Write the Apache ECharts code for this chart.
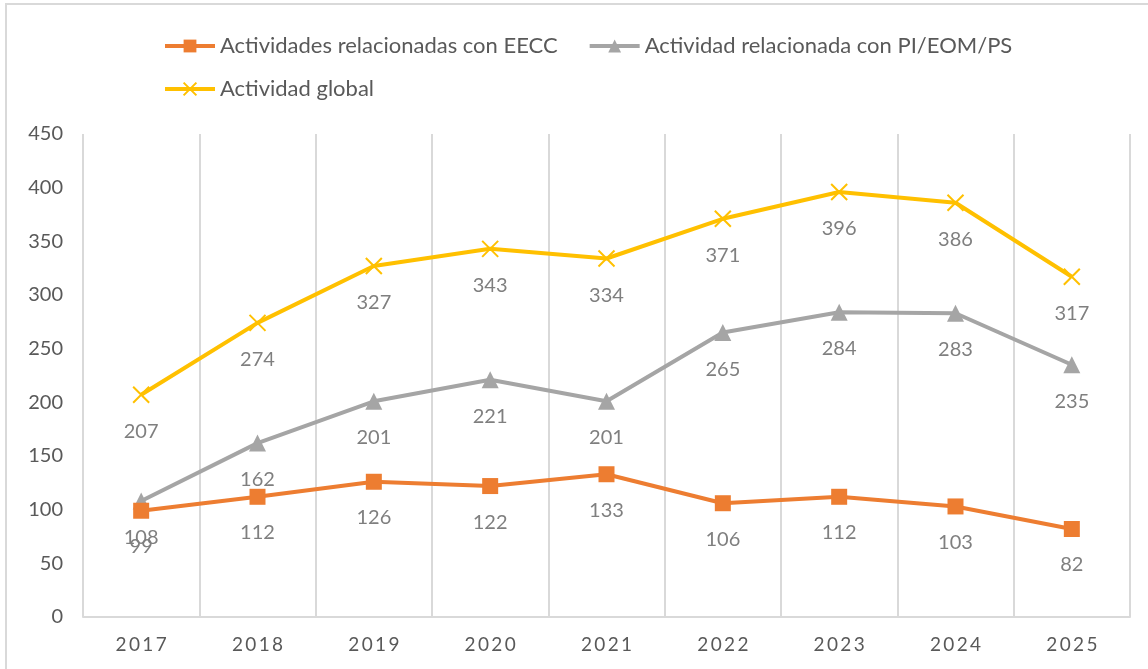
<!DOCTYPE html>
<html>
<head>
<meta charset="utf-8">
<script src="https://cdn.jsdelivr.net/npm/echarts@6/dist/echarts.min.js"></script>
<style>
  html, body { margin: 0; padding: 0; background: #fff; }
  #frame { position: absolute; left: 5px; top: 3px; width: 1160px; height: 700px; border: 2px solid #d9d9d9; box-sizing: border-box; }
  #chart { position: absolute; left: 0; top: 0; width: 1148px; height: 669px; }
</style>
</head>
<body>
<div id="frame"></div>
<div id="chart"></div>
<script>
// data
const years = ['2017', '2018', '2019', '2020', '2021', '2022', '2023', '2024', '2025'];
const eecc = [99, 112, 126, 122, 133, 106, 112, 103, 82];
const piEomPs = [108, 162, 201, 221, 201, 265, 284, 283, 235];
const global = [207, 274, 327, 343, 334, 371, 396, 386, 317];

const NAME_EECC = 'Actividades relacionadas con EECC';
const NAME_PI = 'Actividad relacionada con PI/EOM/PS';
const NAME_GLOBAL = 'Actividad global';

const FONT = 'Lato';
const crossPath = 'path://M0,0L10,10M10,0L0,10';

function spaced(s) {
  return s.split('').join('\u2009');
}

const chart = echarts.init(document.getElementById('chart'));

const labelCfg = {
  show: true,
  position: 'bottom',
  distance: 18,
  color: '#7f7f7f',
  fontSize: 20,
  fontFamily: FONT
};

const legendBase = {
  left: 158,
  itemWidth: 50,
  itemHeight: 16,
  itemGap: 30,
  lineStyle: { width: 4 },
  textStyle: { color: '#595959', fontSize: 22, fontFamily: FONT }
};

chart.setOption({
  animation: false,
  legend: [
    Object.assign({}, legendBase, { top: 30, data: [NAME_EECC, NAME_PI] }),
    Object.assign({}, legendBase, { top: 73, data: [NAME_GLOBAL] })
  ],
  grid: { left: 83, right: 18, top: 134, bottom: 52 },
  xAxis: {
    type: 'category',
    data: years,
    boundaryGap: true,
    axisLine: { lineStyle: { color: '#d9d9d9', width: 2 } },
    axisTick: { show: false },
    splitLine: { show: true, lineStyle: { color: '#d9d9d9', width: 2 } },
    axisLabel: {
      color: '#595959', fontSize: 19, fontFamily: FONT, margin: 18,
      formatter: v => spaced(v)
    }
  },
  yAxis: {
    type: 'value',
    min: 0,
    max: 450,
    interval: 50,
    axisLine: { show: false },
    axisTick: { show: false },
    splitLine: { show: false },
    axisLabel: { color: '#595959', fontSize: 20, fontFamily: FONT, margin: 20 }
  },
  series: [
    {
      name: NAME_EECC,
      type: 'line',
      data: eecc,
      symbol: 'rect',
      symbolSize: 16,
      lineStyle: { color: '#ED7D31', width: 4 },
      itemStyle: { color: '#ED7D31' },
      label: labelCfg,
      z: 4
    },
    {
      name: NAME_PI,
      type: 'line',
      data: piEomPs,
      symbol: 'triangle',
      symbolSize: 17,
      lineStyle: { color: '#A5A5A5', width: 4 },
      itemStyle: { color: '#A5A5A5' },
      label: labelCfg,
      z: 3
    },
    {
      name: NAME_GLOBAL,
      type: 'line',
      data: global,
      symbol: crossPath,
      symbolSize: 16,
      lineStyle: { color: '#FFC000', width: 4 },
      itemStyle: { color: '#FFC000', borderColor: '#FFC000', borderWidth: 2 },
      label: labelCfg,
      z: 2
    }
  ]
});
</script>
</body>
</html>
